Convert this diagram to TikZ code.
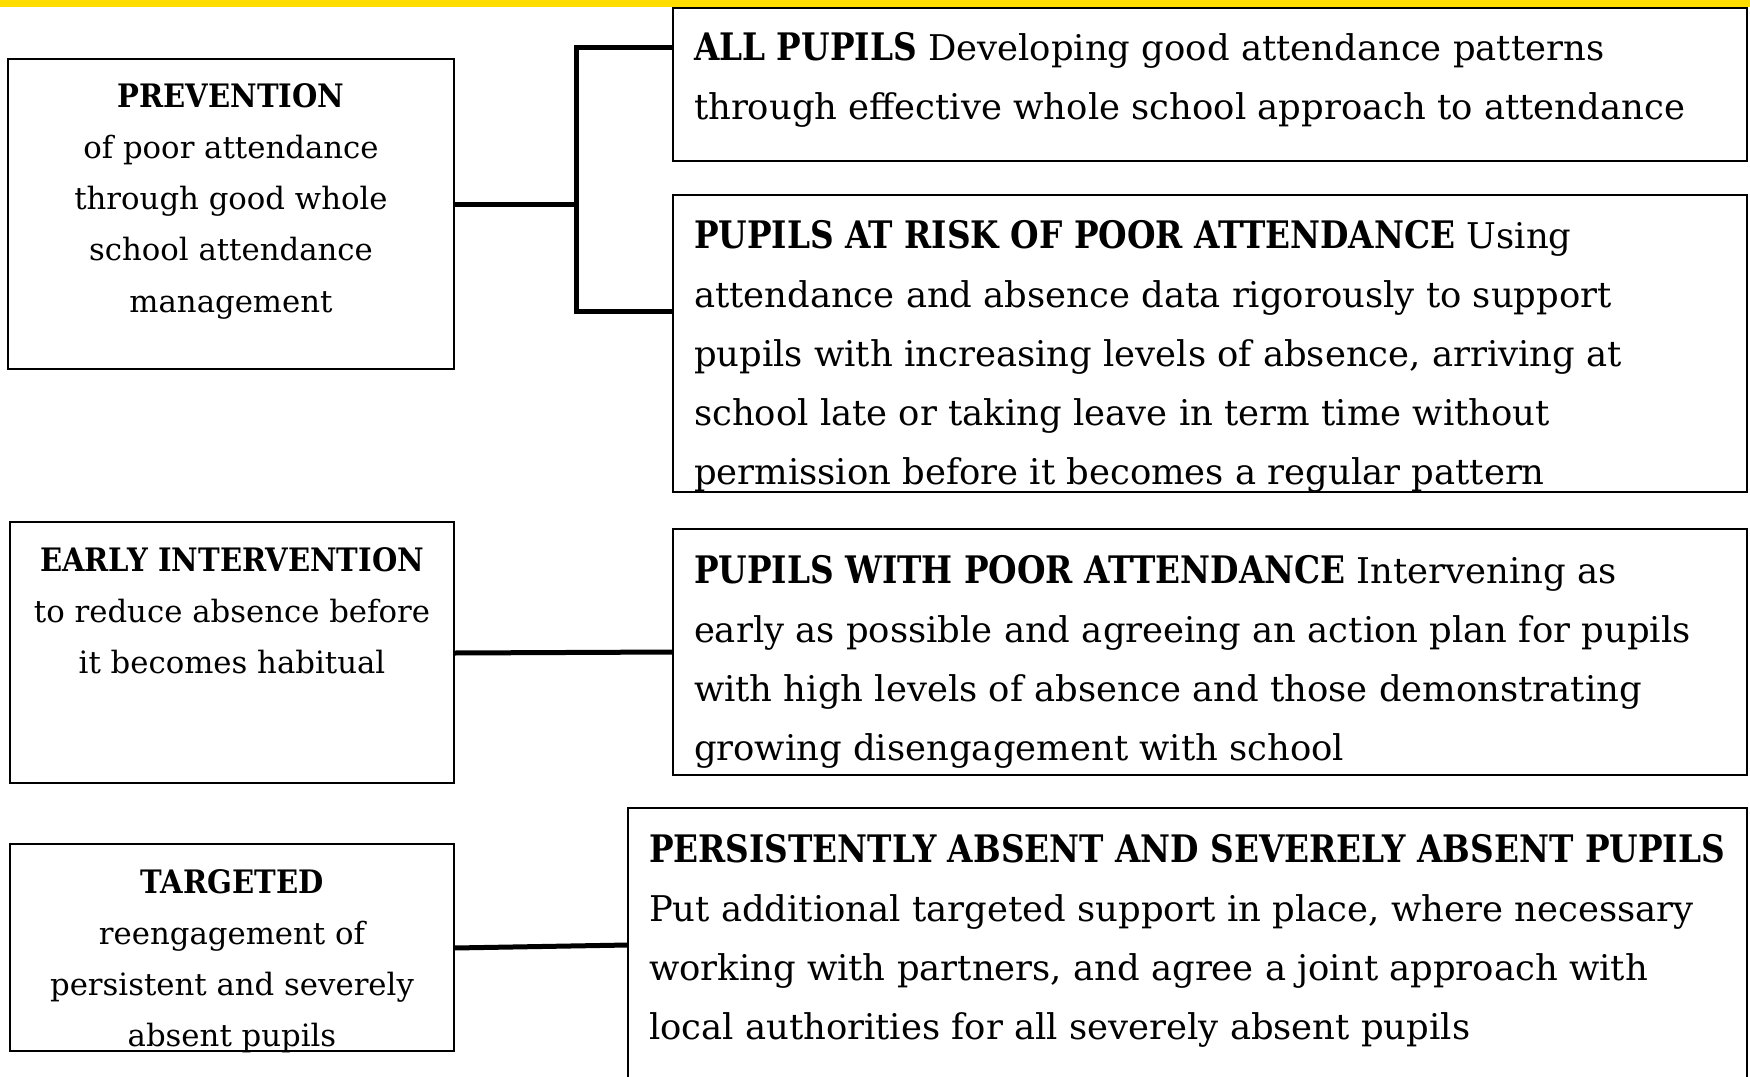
\documentclass[tikz,border=0pt]{standalone}
\usepackage{fontspec}
\usepackage{graphicx}
\setmainfont{DejaVu Serif}
\newlength\mwA
\newlength\mwB
\newlength\mwC
\newlength\mwD
\definecolor{barYellow}{HTML}{FFDD00}
\begin{document}
\settowidth\mwA{\fontsize{10}{12}\selectfont through effective whole school approach to attendance}%
\settowidth\mwB{\fontsize{10}{12}\selectfont\bfseries PERSISTENTLY ABSENT AND SEVERELY ABSENT PUPILS}%
\settowidth\mwC{\fontsize{10}{12}\selectfont to reduce absence before}%
\settowidth\mwD{\fontsize{10}{12}\selectfont\bfseries EARLY INTERVENTION}%
\pgfmathsetmacro\rsR{10*991/\mwA}%
\pgfmathsetmacro\rbS{1.07*\rsR}%
\pgfmathsetmacro\rbX{1076/(\mwB*\rbS/10)}%
\pgfmathsetmacro\lsR{10*396/\mwC}%
\pgfmathsetmacro\lbS{1.05*\lsR}%
\pgfmathsetmacro\lbX{384/(\mwD*\lbS/10)}%
\def\rfont{\fontsize{\rsR}{59}\selectfont}%
\def\rbold#1{\scalebox{\rbX}[1]{\fontsize{\rbS}{59}\selectfont\bfseries #1}}%
\def\lfont{\fontsize{\lsR}{51.3}\selectfont}%
\def\lbold#1{\scalebox{\lbX}[1]{\fontsize{\lbS}{51.3}\selectfont\bfseries #1}}%
\begin{tikzpicture}[x=1pt,y=-1pt,
  box/.style={draw=black, line width=1.6pt, inner sep=0pt, outer sep=0pt, anchor=north west},
  conn/.style={draw=black, line width=5pt, line join=miter},
  rtxt/.style={anchor=base west, inner sep=0pt, outer sep=0pt},
  ltxt/.style={anchor=base, inner sep=0pt, outer sep=0pt}]

\useasboundingbox (0,0) rectangle (1750,1076);
\fill[white] (0,0) rectangle (1750,1076);

% boxes
\node[box, minimum width=446pt, minimum height=310pt] (prev) at (8,59) {};
\node[box, minimum width=1074pt, minimum height=153pt] (allp) at (673,8) {};
\node[box, minimum width=1074pt, minimum height=297pt] (risk) at (673,195) {};
\node[box, minimum width=444pt, minimum height=261pt] (early) at (10,522) {};
\node[box, minimum width=1074pt, minimum height=246pt] (poor) at (673,529) {};
\node[box, minimum width=444pt, minimum height=207pt] (targ) at (10,844) {};
\node[box, minimum width=1119pt, minimum height=290pt] (pers) at (628,808) {};

% texts
\node[ltxt] (prevt) at (231,107) {\parbox[t]{600pt}{\lfont\centering
  \lbold{PREVENTION}\\of poor attendance\\through good whole\\school attendance\\management}};
\node[ltxt] (earlyt) at (232,571) {\parbox[t]{600pt}{\lfont\centering
  \lbold{EARLY INTERVENTION}\\to reduce absence before\\it becomes habitual}};
\node[ltxt] (targt) at (232,893) {\parbox[t]{600pt}{\lfont\centering
  \lbold{TARGETED}\\reengagement of\\persistent and severely\\absent pupils}};

\node[rtxt] (allt) at (694,60) {\parbox[t]{1300pt}{\rfont\raggedright
  \rbold{ALL PUPILS} Developing good attendance patterns\\through effective whole school approach to attendance}};
\node[rtxt] (riskt) at (694,248) {\parbox[t]{1300pt}{\rfont\raggedright
  \rbold{PUPILS AT RISK OF POOR ATTENDANCE} Using\\attendance and absence data rigorously to support\\pupils with increasing levels of absence, arriving at\\school late or taking leave in term time without\\permission before it becomes a regular pattern}};
\node[rtxt] (poort) at (694,583) {\parbox[t]{1300pt}{\rfont\raggedright
  \rbold{PUPILS WITH POOR ATTENDANCE} Intervening as\\early as possible and agreeing an action plan for pupils\\with high levels of absence and those demonstrating\\growing disengagement with school}};
\node[rtxt] (perst) at (649,862) {\parbox[t]{1300pt}{\rfont\raggedright
  \rbold{PERSISTENTLY ABSENT AND SEVERELY ABSENT PUPILS}\\Put additional targeted support in place, where necessary\\working with partners, and agree a joint approach with\\local authorities for all severely absent pupils}};

% connectors
\coordinate (j1) at (576,204);
\coordinate (j2) at (576,47);
\coordinate (j3) at (576,311);
\coordinate (e1) at (0,653);
\coordinate (e2) at (0,652);
\coordinate (t1) at (0,948);
\coordinate (t2) at (0,945);
\draw[conn] (prev.east |- j1) -- (j1);
\draw[conn] (allp.west |- j2) -- (j2) -- (j3) -- (risk.west |- j3);
\draw[conn] (early.east |- e1) -- (poor.west |- e2);
\draw[conn] (targ.east |- t1) -- (pers.west |- t2);

% top bar
\fill[barYellow] (0,0) rectangle (1750,7);
\end{tikzpicture}
\end{document}
